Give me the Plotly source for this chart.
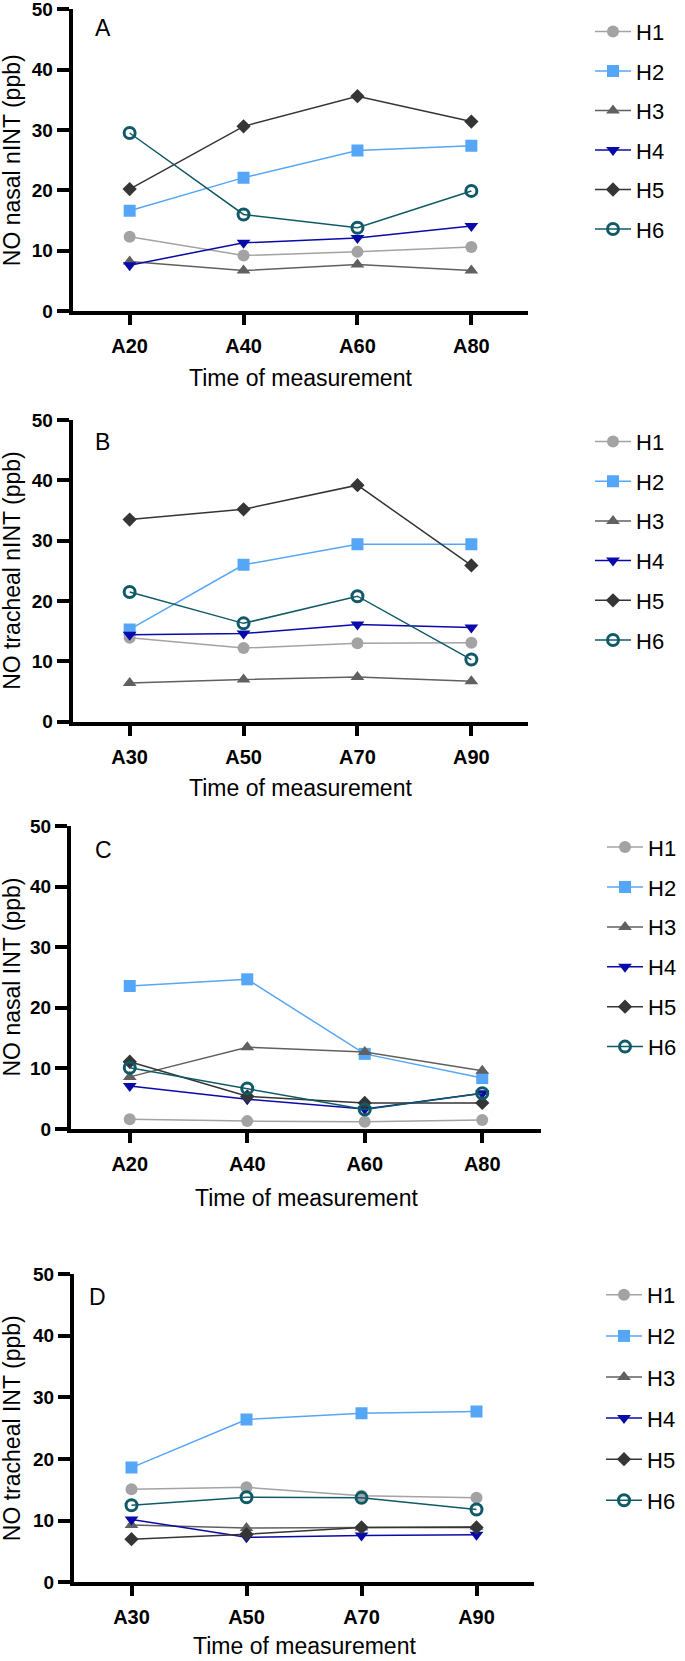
import plotly.graph_objects as go

W, H = 685, 1661

series = ["H1", "H2", "H3", "H4", "H5", "H6"]
cats_AC = ["A20", "A40", "A60", "A80"]
cats_BD = ["A30", "A50", "A70", "A90"]

# Panel A: NO nasal nINT (ppb)
A_H1 = [12.3, 9.2, 9.8, 10.6]
A_H2 = [16.6, 22.1, 26.6, 27.4]
A_H3 = [8.2, 6.7, 7.7, 6.7]
A_H4 = [7.6, 11.3, 12.1, 14.1]
A_H5 = [20.2, 30.6, 35.6, 31.4]
A_H6 = [29.5, 16.0, 13.8, 19.9]

# Panel B: NO tracheal nINT (ppb)
B_H1 = [13.9, 12.2, 13.0, 13.1]
B_H2 = [15.3, 26.0, 29.4, 29.4]
B_H3 = [6.4, 7.0, 7.4, 6.7]
B_H4 = [14.4, 14.6, 16.1, 15.6]
B_H5 = [33.5, 35.2, 39.2, 25.9]
B_H6 = [21.5, 16.3, 20.8, 10.3]

# Panel C: NO nasal INT (ppb)
C_H1 = [1.6, 1.3, 1.2, 1.5]
C_H2 = [23.6, 24.7, 12.4, 8.4]
C_H3 = [8.6, 13.5, 12.7, 9.6]
C_H4 = [7.1, 4.9, 3.3, 5.9]
C_H5 = [11.1, 5.4, 4.3, 4.3]
C_H6 = [10.1, 6.7, 3.2, 5.9]

# Panel D: NO tracheal INT (ppb)
D_H1 = [15.1, 15.4, 14.05, 13.7]
D_H2 = [18.6, 26.4, 27.4, 27.7]
D_H3 = [9.3, 8.8, 8.9, 9.0]
D_H4 = [10.2, 7.3, 7.6, 7.7]
D_H5 = [7.0, 7.8, 8.9, 8.9]
D_H6 = [12.5, 13.8, 13.7, 11.8]

y_titles = ["NO nasal nINT (ppb)", "NO tracheal nINT (ppb)",
            "NO nasal INT (ppb)", "NO tracheal INT (ppb)"]
letters = ["A", "B", "C", "D"]
x_title = "Time of measurement"
y_ticks = [0, 10, 20, 30, 40, 50]

panels = [
    (cats_AC, [A_H1, A_H2, A_H3, A_H4, A_H5, A_H6]),
    (cats_BD, [B_H1, B_H2, B_H3, B_H4, B_H5, B_H6]),
    (cats_AC, [C_H1, C_H2, C_H3, C_H4, C_H5, C_H6]),
    (cats_BD, [D_H1, D_H2, D_H3, D_H4, D_H5, D_H6]),
]

# styles
colors = ["#A3A3A6", "#55A6F6", "#606060", "#0A0AAA", "#353535", "#0F5A66"]
symbols = ["circle", "square", "triangle-up", "triangle-down", "diamond", "circle-open"]
msizes = [12, 12, 12, 12, 11, 11]

# pixel layout: (x_left, x_right, y_top(50), y_bottom(0))
boxes = [
    (72.7, 528.3, 9.3, 311.0),
    (72.7, 528.3, 420.0, 721.7),
    (71.0, 541.0, 826.0, 1129.0),
    (74.0, 534.0, 1274.0, 1582.3),
]
xtitle_y = [378, 788, 1198, 1646]
letter_pos = [(103, 28), (102, 442), (103, 850), (98, 1297)]
# legend: (x of first marker, y of first item centre, item pitch)
legend_pos = [(610, 31.7, 39.5), (610, 441.7, 39.7), (622, 847.3, 39.9), (621, 1295, 41.1)]
ITEMW = 36

FONT = "Arial, 'Liberation Sans', sans-serif"

fig = go.Figure()
layout = dict(
    width=W, height=H,
    margin=dict(l=0, r=0, t=0, b=0, autoexpand=False),
    paper_bgcolor="white", plot_bgcolor="white",
    font=dict(family=FONT, color="black"),
    annotations=[],
)

for i, (cats, vals) in enumerate(panels):
    k = "" if i == 0 else str(i + 1)
    xa, ya = "x" + k, "y" + k
    leg = "legend" + k
    xl, xr, yt, yb = boxes[i]
    for j, s in enumerate(series):
        sym = symbols[j]
        mk = dict(symbol=sym, size=msizes[j], color=colors[j])
        if sym == "circle-open":
            mk["line"] = dict(width=3, color=colors[j])
        fig.add_trace(go.Scatter(
            x=cats, y=vals[j], name=s, mode="lines+markers",
            line=dict(color=colors[j], width=1.5),
            marker=mk, xaxis=xa, yaxis=ya, legend=leg,
            legendgroup=f"p{i}_{s}",
        ))
    layout["xaxis" + k] = dict(
        domain=[xl / W, xr / W], anchor=ya, automargin=False,
        type="category", categoryorder="array", categoryarray=cats,
        range=[-0.5, 3.5],
        showline=True, linecolor="black", linewidth=4,
        ticks="outside", ticklen=10, tickwidth=4, tickcolor="black",
        showgrid=False, zeroline=False,
        tickfont=dict(family=FONT, size=20, color="black", weight="bold"),
        ticklabelstandoff=4, ticklabeloverflow="allow", fixedrange=True,
    )
    layout["yaxis" + k] = dict(
        domain=[1 - yb / H, 1 - yt / H], anchor=xa, automargin=False,
        range=[0, 50], tickvals=y_ticks,
        showline=True, linecolor="black", linewidth=4,
        ticks="outside", ticklen=12, tickwidth=3.5, tickcolor="black",
        showgrid=False, zeroline=False,
        tickfont=dict(family=FONT, size=19, color="black", weight="bold"),
        ticklabeloverflow="allow", fixedrange=True,
    )
    mx, my, pitch = legend_pos[i]
    gap = pitch - 31.6
    layout[leg] = dict(
        x=(mx + 3 - (ITEMW + 10) / 2) / W, y=1 - (my - 21) / H,
        xanchor="left", yanchor="top",
        xref="paper", yref="paper",
        font=dict(family=FONT, size=22, color="black"),
        bgcolor="rgba(0,0,0,0)", borderwidth=0,
        traceorder="grouped", tracegroupgap=gap,
        itemwidth=ITEMW,
    )
    # y-axis title
    layout["annotations"].append(dict(
        text=y_titles[i], xref="paper", yref="paper",
        x=12 / W, y=1 - ((yt + yb) / 2) / H, xanchor="center", yanchor="middle",
        textangle=-90, showarrow=False,
        font=dict(family=FONT, size=23, color="black"),
    ))
    # x-axis title
    layout["annotations"].append(dict(
        text=x_title, xref="paper", yref="paper",
        x=((xl + xr) / 2) / W, y=1 - xtitle_y[i] / H, xanchor="center", yanchor="middle",
        showarrow=False,
        font=dict(family=FONT, size=23, color="black"),
    ))
    # panel letter
    px, py = letter_pos[i]
    layout["annotations"].append(dict(
        text=letters[i], xref="paper", yref="paper",
        x=px / W, y=1 - py / H, xanchor="center", yanchor="middle",
        showarrow=False,
        font=dict(family=FONT, size=23, color="black"),
    ))

fig.update_layout(**layout)
fig.write_html(
    "out.html",
    config={"displayModeBar": False},
    post_script="document.body.style.margin='0';document.body.style.overflow='hidden';",
)
